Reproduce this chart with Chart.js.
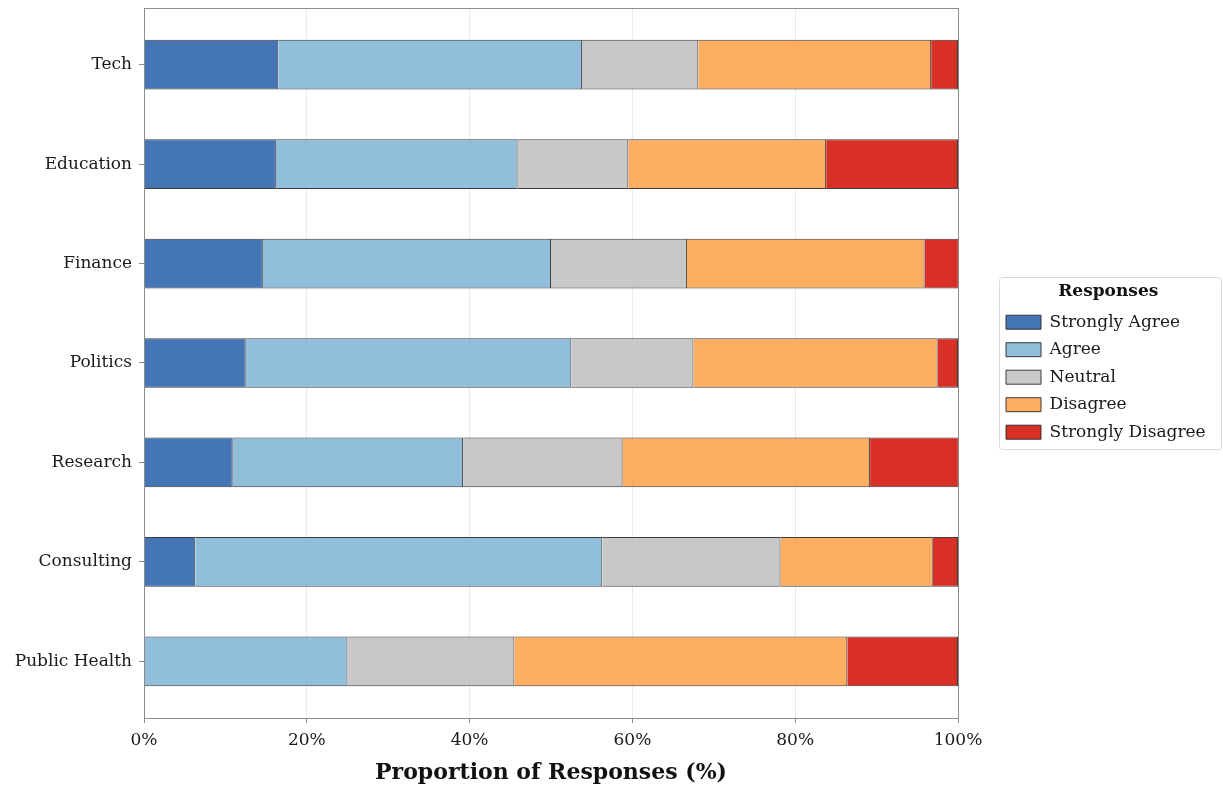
<!DOCTYPE html>
<html>
<head>
<meta charset="utf-8">
<script src="https://cdn.jsdelivr.net/npm/chart.js@4.4.1/dist/chart.umd.min.js"></script>
<style>
  html, body { margin: 0; padding: 0; background: #fff; }
</style>
</head>
<body>
<canvas id="likertChart" width="1223" height="790"></canvas>
<script>
/* data (percent of responses per industry) */
const industries = ['Tech', 'Education', 'Finance', 'Politics', 'Research', 'Consulting', 'Public Health'];
const responseLabels = ['Strongly Agree', 'Agree', 'Neutral', 'Disagree', 'Strongly Disagree'];

const stronglyAgree    = [16.5, 16.2, 14.6, 12.5, 10.9,  6.3,  0.0];
const agree            = [37.3, 29.7, 35.4, 40.0, 28.3, 50.0, 25.0];
const neutral          = [14.3, 13.6, 16.7, 15.0, 19.6, 21.9, 20.5];
const disagree         = [28.6, 24.3, 29.2, 30.0, 30.4, 18.7, 40.9];
const stronglyDisagree = [ 3.3, 16.2,  4.2,  2.5, 10.9,  3.1, 13.6];

const xTicks = [0, 20, 40, 60, 80, 100];
const xTitle = 'Proportion of Responses (%)';
const legendTitle = 'Responses';

const seriesValues = [stronglyAgree, agree, neutral, disagree, stronglyDisagree];
const seriesColors = [
    'rgba(48, 102, 172, 0.9)',
    'rgba(133, 183, 215, 0.9)',
    'rgba(194, 194, 194, 0.9)',
    'rgba(253, 165, 79, 0.9)',
    'rgba(212, 26, 15, 0.9)'
];

const serif = "'DejaVu Serif', 'Liberation Serif', serif";
const textColor = '#1a1a1a';
const frameColor = '#8c8c8c';

// legenda bawaan terlalu sempit untuk teks serif, jadi lebarnya dipaksa
const LEGEND_WIDTH = 225.5;
const legendWidthPlugin = {
    id: 'legendWidth',
    beforeUpdate(chart) {
        const lg = chart.legend;
        if (lg && !lg._widthPatched) {
            const origFit = lg.fit.bind(lg);
            lg.fit = function () {
                origFit();
                this.width = LEGEND_WIDTH;
            };
            lg._widthPatched = true;
        }
    }
};

// kotak di sekeliling area plot + bingkai legenda
const framePlugin = {
    id: 'framePlugin',
    afterDraw(chart) {
        const { ctx, chartArea } = chart;
        ctx.save();
        ctx.strokeStyle = frameColor;
        ctx.lineWidth = 1;
        ctx.strokeRect(Math.round(chartArea.left) + 0.5, Math.round(chartArea.top) + 0.5,
            Math.round(chartArea.right - chartArea.left), Math.round(chartArea.bottom - chartArea.top));

        const lg = chart.legend;
        if (lg && lg.legendHitBoxes && lg.legendHitBoxes.length) {
            const boxes = lg.legendHitBoxes;
            const first = boxes[0];
            const last = boxes[boxes.length - 1];
            const left = Math.min(...boxes.map(b => b.left)) - 7;
            const right = chart.width - 2;
            const top = first.top - 36.5;
            const bottom = last.top + 25.5;
            ctx.strokeStyle = '#d9d9d9';
            ctx.beginPath();
            ctx.roundRect(Math.round(left) + 0.5, Math.round(top) + 0.5,
                Math.round(right - left), Math.round(bottom - top), 3);
            ctx.stroke();
        }
        ctx.restore();
    }
};

const datasets = responseLabels.map((label, s) => ({
    label: label,
    data: seriesValues[s].map((v, i) => ({ x: v, y: i })),
    backgroundColor: seriesColors[s],
    borderColor: 'rgba(40, 40, 40, 0.9)',
    borderWidth: 1,
    barPercentage: 0.5,
    categoryPercentage: 1.0
}));

new Chart(document.getElementById('likertChart'), {
    type: 'bar',
    data: { datasets: datasets },
    options: {
        indexAxis: 'y',
        responsive: false,
        animation: false,
        devicePixelRatio: 1,
        layout: { padding: { top: 8, bottom: 4, left: 0, right: 2 } },
        scales: {
            x: {
                type: 'linear',
                stacked: true,
                min: 0,
                max: 100,
                afterBuildTicks: (s) => { s.ticks = xTicks.map(v => ({ value: v })); },
                afterFit: (s) => { s.height = 68; },
                grid: { color: '#ebebeb', lineWidth: 1, tickColor: frameColor, tickLength: 5 },
                border: { color: frameColor },
                ticks: {
                    padding: 7,
                    color: textColor,
                    font: { family: serif, size: 17 },
                    callback: (v) => v + '%'
                },
                title: {
                    display: true,
                    text: xTitle,
                    color: '#111',
                    font: { family: serif, size: 22, weight: 'bold' },
                    padding: { top: 4, bottom: 0 }
                }
            },
            y: {
                type: 'linear',
                stacked: true,
                reverse: true,
                offset: false,
                min: -0.57,
                max: 6.57,
                afterBuildTicks: (s) => { s.ticks = industries.map((_, i) => ({ value: i })); },
                afterFit: (s) => { s.width = 144; s.paddingTop = 0; s.paddingBottom = 0; },
                grid: { offset: false, drawOnChartArea: false, tickColor: frameColor, tickLength: 5 },
                border: { color: frameColor },
                ticks: {
                    autoSkip: false,
                    padding: 7,
                    color: textColor,
                    font: { family: serif, size: 17 },
                    callback: (v) => industries[v] ?? ''
                }
            },
            gap: {
                type: 'linear',
                axis: 'y',
                position: 'right',
                display: true,
                grid: { display: false, drawTicks: false },
                border: { display: false },
                ticks: { display: false },
                afterFit: (s) => { s.width = 37.5; s.paddingTop = 0; s.paddingBottom = 0; }
            }
        },
        plugins: {
            legend: {
                position: 'right',
                align: 'center',
                fullSize: false,
                labels: {
                    boxWidth: 35,
                    boxHeight: 14,
                    padding: 10.5,
                    color: textColor,
                    font: { family: serif, size: 17 }
                },
                title: {
                    display: true,
                    text: legendTitle,
                    color: '#111',
                    font: { family: serif, size: 17, weight: 'bold' },
                    padding: { top: 8, bottom: 0 }
                }
            },
            tooltip: { enabled: false }
        }
    },
    plugins: [legendWidthPlugin, framePlugin]
});
</script>
</body>
</html>
